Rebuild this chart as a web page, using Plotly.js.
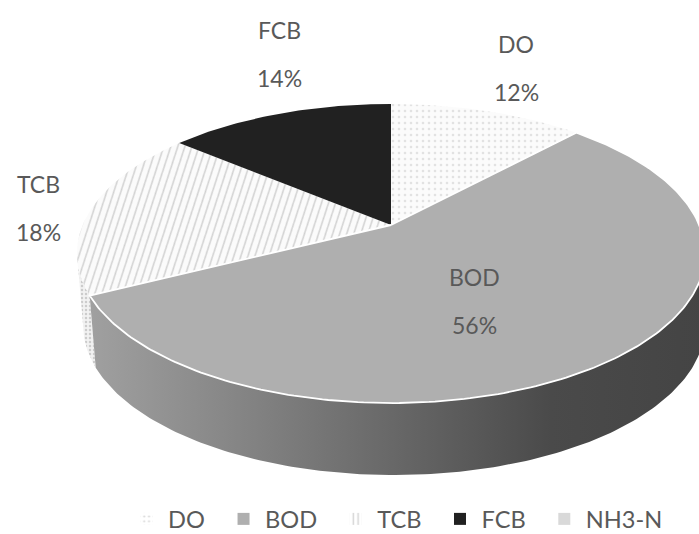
<!DOCTYPE html>
<html>
<head>
<meta charset="utf-8">
<script src="https://cdn.plot.ly/plotly-3.0.1.min.js"></script>
<style>html,body{margin:0;padding:0;background:#fff;overflow:hidden;width:699px;height:534px}#chart{width:699px;height:534px;overflow:hidden}</style>
</head>
<body>
<div id="chart"></div>
<script>
// ---- chart data ----
const categories = ["DO", "BOD", "TCB", "FCB", "NH3-N"];
const shares = [12, 55.6, 18.4, 14, 0];
const percentLabels = ["12%", "56%", "18%", "14%"];

// ---- projection of the tilted disc (perspective) ----
const K = 0.1906, A = 307.3 * 314 / 313, B = 144.1;
function topRim(t) { const w = 1 + K * Math.cos(t); return [A * Math.sin(t) / w, B * Math.cos(t) / w]; }
function lowRim(t) { const w = 1 + K * Math.cos(t); return [3 + 0.99 * A * Math.sin(t) / w, -72 + B * Math.cos(t) / w]; }
function arcAngles(p0, p1) {
  const a0 = p0 / 100 * 2 * Math.PI, a1 = p1 / 100 * 2 * Math.PI, n = Math.max(2, Math.ceil((p1 - p0) * 4));
  const out = [];
  for (let i = 0; i <= n; i++) out.push(a0 + (a1 - a0) * i / n);
  return out;
}
const starts = [];
shares.reduce((s, v, i) => { starts[i] = s; return s + v; }, 0);
// the widest points of the disc: the outer wall is visible only between them
const sideR = Math.acos(-K) / (2 * Math.PI) * 100, sideL = 100 - sideR;

function wedge(i) {
  const pts = arcAngles(starts[i], starts[i] + shares[i]).map(topRim);
  return { x: [0, ...pts.map(p => p[0]), 0], y: [0, ...pts.map(p => p[1]), 0] };
}
function wall(i) {
  const p0 = Math.max(starts[i], sideR), p1 = Math.min(starts[i] + shares[i], sideL);
  const ts = arcAngles(p0, p1);
  const up = ts.map(topRim), lo = ts.map(lowRim).reverse();
  const all = up.concat(lo, [up[0]]);
  return { x: all.map(p => p[0]), y: all.map(p => p[1]) };
}
function poly(g, extra) {
  return Object.assign({ type: "scatter", mode: "lines", x: g.x, y: g.y, fill: "toself",
    line: { width: 0, color: "rgba(0,0,0,0)" }, hoverinfo: "skip", showlegend: false }, extra);
}

const traces = [
  // walls
  poly(wall(2), { fillpattern: { shape: ".", bgcolor: "#f2f2f2", fgcolor: "#cccccc", size: 4, solidity: 0.3 } }),
  poly(wall(1), { fillgradient: { type: "horizontal", colorscale: [[0, "#a0a0a0"], [0.25, "#848484"], [0.5, "#676767"], [0.75, "#4a4a4a"], [1, "#444444"]] } }),
  // top faces
  poly(wedge(0), { fillpattern: { shape: ".", bgcolor: "#fbfbfb", fgcolor: "#e2e2e2", size: 6, solidity: 0.15 } }),
  poly(wedge(2), { fillpattern: { shape: "/", bgcolor: "#fbfbfb", fgcolor: "#d0d0d0", size: 6.7, solidity: 0.22 } }),
  poly(wedge(3), { fillcolor: "#212121" }),
  poly(wedge(1), { fillcolor: "#afafaf", line: { width: 1.8, color: "#ffffff" } })
];

// legend carriers
const legendMarkers = [
  { color: "#ffffff", pattern: { shape: ".", bgcolor: "#ffffff", fgcolor: "#d8d8d8", size: 6, solidity: 0.15 } },
  { color: "#afafaf" },
  { color: "#ffffff", pattern: { shape: "|", bgcolor: "#ffffff", fgcolor: "#d4d4d4", size: 6, solidity: 0.3 } },
  { color: "#212121" },
  { color: "#d9d9d9" }
];
categories.forEach((c, i) => traces.push({ type: "bar", x: [0], y: [0], name: c + "\u00a0\u00a0",
  marker: Object.assign({ line: { width: 0 } }, legendMarkers[i]), hoverinfo: "skip", showlegend: true }));

const labelAnchors = [[125, 181], [83, -52], [-353, 41], [-112, 195]];
const labelFont = { family: "Lato", size: 23, color: "#595959" };
const annotations = [];
percentLabels.forEach((p, i) => {
  const [x, y] = labelAnchors[i];
  annotations.push({ x, y, text: categories[i], showarrow: false, font: labelFont });
  annotations.push({ x, y: y - 48, text: p, showarrow: false, font: labelFont });
});

const layout = {
  width: 699, height: 544, margin: { l: 0, r: 0, t: 0, b: 10 },
  paper_bgcolor: "#ffffff", plot_bgcolor: "#ffffff",
  xaxis: { range: [-391, 308], visible: false, fixedrange: true },
  yaxis: { range: [-309, 225], visible: false, fixedrange: true },
  showlegend: true,
  legend: { orientation: "h", x: 0.179, xanchor: "left", y: 0.028, yanchor: "middle", itemwidth: 33,
    font: { family: "Lato", size: 23.6, color: "#595959" }, bgcolor: "rgba(0,0,0,0)", traceorder: "normal" },
  annotations
};

Plotly.newPlot("chart", traces, layout, { displayModeBar: false, staticPlot: true }).then(() => {
  document.querySelectorAll("pattern").forEach(p => {
    const d = p.querySelector("path");
    if (d && (d.getAttribute("d") || "").startsWith("M-")) p.setAttribute("patternTransform", "rotate(-27)");
  });
});
</script>
</body>
</html>
